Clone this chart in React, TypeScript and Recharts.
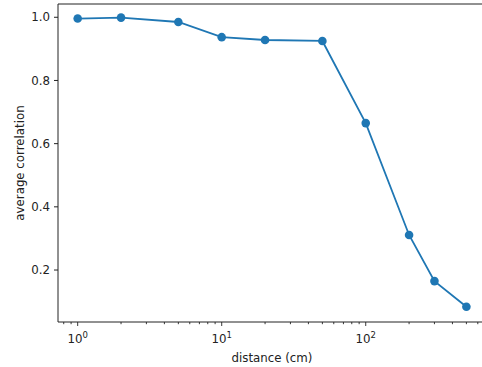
import React from 'react';
import { LineChart, Line, XAxis, YAxis, ReferenceLine } from 'recharts';

// distance in cm vs average correlation
const distances = [1, 2, 5, 10, 20, 50, 100, 200, 300, 500];
const correlations = [0.996, 0.999, 0.985, 0.937, 0.928, 0.925, 0.665, 0.311, 0.165, 0.084];

const xMajorTicks = [1, 10, 100];
const xMinorTicks = [0.8, 0.9, 2, 3, 4, 5, 6, 7, 8, 9, 20, 30, 40, 50, 60, 70, 80, 90, 200, 300, 400, 500, 600];
const yTicks = [0.2, 0.4, 0.6, 0.8, 1.0];

const xDomain = [0.73, 684];
const yDomain = [0.0355, 1.042];

const data = distances.map((d, i) => ({ d, r: correlations[i] }));
const allXTicks = [...xMinorTicks, ...xMajorTicks].sort((a, b) => a - b);

const FONT = '"DejaVu Sans", sans-serif';
const INK = '#222';

const XTick = (props: any) => {
  const { x, y, payload } = props;
  const v = payload.value;
  const major = xMajorTicks.includes(v);
  return (
    <g>
      <line x1={x} x2={x} y1={y} y2={y + (major ? 4 : 2.2)} stroke={INK} strokeWidth={0.9} />
      {major && (
        <text x={x} y={y + 21} textAnchor="middle" fontFamily={FONT} fontSize={11.8} fill={INK}>
          10
          <tspan dy={-5} fontSize={8.5}>{Math.round(Math.log10(v))}</tspan>
        </text>
      )}
    </g>
  );
};

export default function App() {
  return (
    <div style={{ position: 'absolute', left: 0, top: 0, width: 482, height: 367, overflow: 'hidden', background: '#fff' }}>
      <LineChart width={490} height={367} data={data} margin={{ top: 4, right: 4, left: 0, bottom: 0 }}>
        <XAxis
          dataKey="d"
          type="number"
          scale="log"
          domain={xDomain}
          allowDataOverflow
          ticks={allXTicks}
          interval={0}
          height={45}
          tickSize={0}
          tickMargin={0}
          tickLine={false}
          tick={<XTick />}
          axisLine={{ stroke: INK }}
          label={{ value: 'distance (cm)', position: 'insideBottom', offset: 5, style: { fontFamily: FONT, fontSize: 11.8, fill: INK } }}
        />
        <YAxis
          type="number"
          domain={yDomain}
          allowDataOverflow
          ticks={yTicks}
          width={58}
          tickSize={4}
          tickMargin={4}
          tickFormatter={(v: number) => v.toFixed(1)}
          tick={{ fontFamily: FONT, fontSize: 11.8, fill: INK }}
          tickLine={{ stroke: INK }}
          axisLine={{ stroke: INK }}
          label={{ value: 'average correlation', angle: -90, position: 'insideLeft', offset: 20, style: { fontFamily: FONT, fontSize: 11.8, fill: INK, textAnchor: 'middle' } }}
        />
        {/* top spine */}
        <ReferenceLine y={yDomain[1]} stroke={INK} strokeWidth={1} ifOverflow="visible" />
        <Line
          dataKey="r"
          stroke="#1f77b4"
          strokeWidth={1.8}
          dot={{ r: 4.3, fill: '#1f77b4', stroke: '#1f77b4', strokeWidth: 0 }}
          isAnimationActive={false}
        />
      </LineChart>
    </div>
  );
}
